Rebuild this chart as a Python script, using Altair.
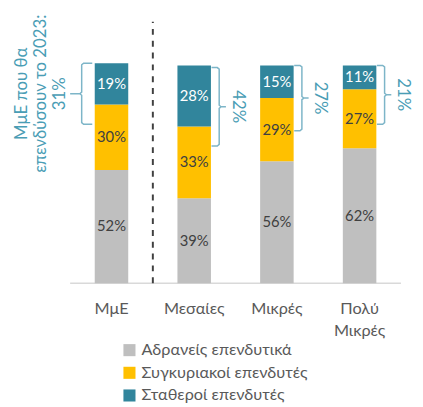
import altair as alt
import pandas as pd

# ---- data ----
categories = ["ΜμΕ", "Μεσαίες", "Μικρές", "Πολύ Μικρές"]
x_label_lines = [["ΜμΕ"], ["Μεσαίες"], ["Μικρές"], ["Πολύ", "Μικρές"]]
series = ["Αδρανείς επενδυτικά", "Συγκυριακοί επενδυτές", "Σταθεροί επενδυτές"]
inactive = [52, 39, 56, 62]
cyclical = [30, 33, 29, 27]
stable = [19, 28, 15, 11]
brace_pct = [31, 42, 27, 21]
brace_top = [101, 99, 100, 100]
brace_bottom = [73, 63, 70, 73]
brace_side = ["left", "right", "right", "right"]
left_note_lines = ["ΜμΕ που θα", "επενδύσουν το 2023:"]
separator_at = 0.5
separator_top = 120

# ---- style ----
COLORS = ["#BFBFBF", "#FFC000", "#31859C"]
NOTE_COLOR = "#4A9DB5"
BRACE_COLOR = "#7DB5C8"
FONT = "Lato"
W, H = 413, 397
PX_X = 86.0
PX_Y = 2.21
X0_PX = 102.5
Y0_PX = 276.3
xmin = -X0_PX / PX_X
xmax = xmin + W / PX_X
ymax = Y0_PX / PX_Y
ymin = ymax - H / PX_Y

xs = alt.Scale(domain=[xmin, xmax], nice=False, zero=False)
ys = alt.Scale(domain=[ymin, ymax], nice=False, zero=False)


def X(f):
    return alt.X(f, type="quantitative", scale=xs, axis=None)


def Y(f):
    return alt.Y(f, type="quantitative", scale=ys, axis=None)


rows = []
for i, c in enumerate(categories):
    cum = 0
    for k, (s, vals) in enumerate(zip(series, [inactive, cyclical, stable])):
        v = vals[i]
        rows.append({"idx": i, "cat": c, "series": s, "order": k,
                     "y0": cum, "y1": cum + v, "mid": cum + v / 2,
                     "label": f"{v}%"})
        cum += v
df = pd.DataFrame(rows)

bars = alt.Chart(df).mark_bar(size=34).encode(
    x=X("idx"), y=Y("y0"), y2="y1",
    color=alt.Color("series:N", scale=alt.Scale(domain=series, range=COLORS),
                    legend=alt.Legend(title=None, orient="none", legendX=115,
                                      legendY=336, symbolType="square",
                                      symbolSize=150, symbolStrokeWidth=0,
                                      labelFontSize=16.5, labelFont=FONT,
                                      labelColor="#595959", rowPadding=6,
                                      labelOffset=4, padding=0, labelLimit=0)),
)

seg_dark = alt.Chart(df[df.order < 2]).mark_text(
    font=FONT, fontSize=15, baseline="middle", align="center", color="#404040"
).encode(x=X("idx"), y=Y("mid"), text="label:N")
seg_light = alt.Chart(df[df.order == 2]).mark_text(
    font=FONT, fontSize=15, baseline="middle", align="center", color="#FFFFFF"
).encode(x=X("idx"), y=Y("mid"), text="label:N")

axis_df = pd.DataFrame({"ax": [-0.5], "axe": [len(categories) - 0.5], "ay": [0]})
axis_line = alt.Chart(axis_df).mark_rule(color="#D9D9D9", strokeWidth=1.5).encode(
    x=X("ax"), x2="axe", y=Y("ay")
)

sep_df = pd.DataFrame({"sx": [separator_at], "sy": [0], "sye": [separator_top]})
sep = alt.Chart(sep_df).mark_rule(color="#404040", strokeWidth=2,
                                  strokeDash=[6, 6]).encode(
    x=X("sx"), y=Y("sy"), y2="sye"
)

# category labels under the axis (one row per text line)
LAB_Y0 = -12.0
LAB_DY = 22 / PX_Y
xl_rows = []
for i, lines in enumerate(x_label_lines):
    for j, t in enumerate(lines):
        xl_rows.append({"lxi": i, "lyv": LAB_Y0 - j * LAB_DY, "lt": t})
xlabels = alt.Chart(pd.DataFrame(xl_rows)).mark_text(
    font=FONT, fontSize=16.5, color="#595959", baseline="middle", align="center"
).encode(x=X("lxi"), y=Y("lyv"), text="lt:N")

# braces
pts = []
for i in range(len(categories)):
    if brace_side[i] == "left":
        sgn, h, v, t = -1, 20, 31, 43
    else:
        sgn, h, v, t = 1, 18, 26, 33
    top, bot = brace_top[i], brace_bottom[i]
    mid = (top + bot) / 2
    c = 1.6 / PX_Y
    path = [(h, top), (v - 2, top), (v, top - c), (v, mid + c), (v + 2, mid),
            (t, mid), (v + 2, mid), (v, mid - c), (v, bot + c), (v - 2, bot), (h, bot)]
    for j, (dx, yv) in enumerate(path):
        pts.append({"b": i, "o": j, "bx": i + sgn * dx / PX_X, "by": yv})
braces = alt.Chart(pd.DataFrame(pts)).mark_line(
    color=BRACE_COLOR, strokeWidth=1.5
).encode(x=X("bx"), y=Y("by"), detail="b:N", order="o:Q")

# brace notes
left_rows, right_rows = [], []
for i in range(len(categories)):
    mid = (brace_top[i] + brace_bottom[i]) / 2
    if brace_side[i] == "left":
        lines = left_note_lines + [f"{brace_pct[i]}%"]
        n = len(lines)
        for j, t in enumerate(lines):
            off = -53.5 - (n - 1 - j) * 20
            left_rows.append({"nx": i + off / PX_X, "ny": mid, "nt": t})
    else:
        right_rows.append({"nx": i + 45 / PX_X, "ny": mid, "nt": f"{brace_pct[i]}%"})

left_lab = alt.Chart(pd.DataFrame(left_rows)).mark_text(
    font=FONT, fontSize=17, color=NOTE_COLOR, angle=270, align="center",
    baseline="middle"
).encode(x=X("nx"), y=Y("ny"), text="nt:N")
right_lab = alt.Chart(pd.DataFrame(right_rows)).mark_text(
    font=FONT, fontSize=17, color=NOTE_COLOR, angle=90, align="center",
    baseline="middle"
).encode(x=X("nx"), y=Y("ny"), text="nt:N")

chart = alt.layer(axis_line, sep, bars, seg_dark, seg_light, braces,
                  left_lab, right_lab, xlabels).properties(
    width=W, height=H, padding=0
).configure_view(strokeWidth=0)

chart.save("out.html", embed_options={"renderer": "svg", "actions": False})
